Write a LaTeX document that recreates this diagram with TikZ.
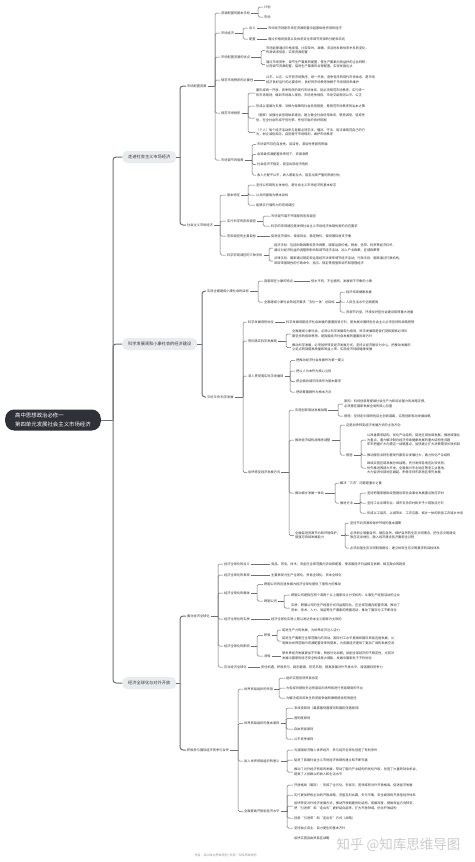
\documentclass[tikz,border=0pt]{standalone}
\usepackage{fontspec}
\setmainfont{Noto Sans CJK SC}
\usepackage{tikz}
\usetikzlibrary{positioning}
\definecolor{rootfill}{HTML}{2E3238}
\definecolor{mainfill}{HTML}{E9ECEF}
\definecolor{linegray}{HTML}{707070}
\definecolor{textgray}{HTML}{333333}
\newcommand\rootsize{\fontsize{5.4}{8.2}\selectfont}
\newcommand\mainsize{\fontsize{4.2}{5}\selectfont}
\newcommand\topicsize{\fontsize{3.2}{4.5}\selectfont}
\tikzset{
    rootbox/.style={rectangle, fill=rootfill, rounded corners=9pt, text=white, font=\rootsize, align=left, minimum height=21pt, inner xsep=10pt, anchor=west},
    mainbox/.style={rectangle, fill=mainfill, rounded corners=5pt, text=textgray, font=\mainsize, minimum height=12pt, inner xsep=6pt, anchor=west},
    topic/.style={anchor=west, font=\topicsize, text=textgray, align=left, inner xsep=1pt, inner ysep=0.6pt},
    trunk/.style={draw=linegray, line width=1pt, rounded corners=3pt},
    link/.style={draw=linegray, line width=0.5pt, rounded corners=1.5pt}
}
% bracket from a parent to its children, #3 = x of the bracket
\newcommand\fanout[4][link]{%
    \path (#3,0) coordinate (fx);
    \draw[#1] (#2.east) -- (#2.east -| fx) coordinate (#2f);
    \foreach \kid in {#4}{\draw[#1] (#2f) |- (\kid.west);}
}
\begin{document}
\begin{tikzpicture}[x=1pt, y=-1pt]
    \fill[white] (0,0) rectangle (474,862);
    \useasboundingbox (0,0) rectangle (474,862);

    \node[rootbox] (root) at (5,420) {高中思想政治必修一\\第四单元发展社会主义市场经济};

    % --- branch 1
    \node[mainbox] (b1) at (122,157) {走进社会主义市场经济};
    \node[topic] (mkt) at (186,86) {市场配置资源};
    \node[topic] (sme) at (186,225) {社会主义市场经济};

    \node[topic] (a1) at (220,13) {资源配置的基本手段};
    \node[topic] (a1x) at (263,7) {计划};
    \node[topic] (a1y) at (263,17) {市场};
    \node[topic] (a2) at (220,33) {市场经济};
    \node[topic] (a2x) at (248,28) {含义};
    \node[topic] (a2y) at (248,39) {配置};
    \node[topic] (a2xl) at (267,28) {市场经济就是市场在资源配置中起基础性作用的经济};
    \node[topic] (a2yl) at (267,39) {通过价格的涨落以及供求变化来调节资源的分配和流向};
    \node[topic] (a3) at (220,57) {市场配置资源的优点};
    \node[topic] (a3x) at (265,50.5) {市场能够通过价格涨落，比较及时、准确、灵活地反映供求关系的变化，\\传递供求信息，实现资源配置};
    \node[topic] (a3y) at (265,64.5) {通过市场竞争，调节生产要素的配置，使生产要素向效益好的企业转移，\\从而调节资源配置，促进生产要素的合理配置，实现优胜劣汰};
    \node[topic] (a4) at (220,80) {规范市场秩序的必要性};
    \node[topic] (a4x) at (265,80) {公平、公正、公开的市场秩序，统一开放、竞争有序的现代市场体系，是市场\\经济良好运行的必要条件，良好的市场秩序依赖于市场规则来维护};
    \node[topic] (a5) at (220,113) {规范市场秩序};
    \node[topic] (a5a) at (255,93) {要形成统一开放、竞争有序的现代市场体系，就必须规范市场秩序，实行统一\\的市场规则，做到市场准入规则、市场竞争规则、市场交易规则公平、公正};
    \node[topic] (a5b) at (255,106) {形成以道德为支撑、法律为保障的社会信用制度，是规范市场秩序的治本之策};
    \node[topic] (a5c) at (255,118) {（国家）加强社会信用体系建设，建立健全社会信用体系，褒扬诚信，惩戒失\\信，在全社会形成守信光荣、失信可耻的良好氛围};
    \node[topic] (a5d) at (255,132.5) {（个人）每个经济活动参与者都必须学法、懂法、守法，用法律规范自己的行\\为，树立诚信观念，自觉遵守市场规则，维护市场秩序};
    \node[topic] (a6) at (220,160) {市场调节的局限};
    \node[topic] (a6a) at (256,144.5) {市场调节存在自发性、盲目性、滞后性等固有弊端};
    \node[topic] (a6b) at (256,154.5) {会导致资源配置效率低下、资源浪费};
    \node[topic] (a6c) at (256,164.5) {社会经济不稳定，甚至出现经济危机};
    \node[topic] (a6d) at (256,175) {收入分配不公平，收入差距拉大，甚至出现严重的两极分化};

    \node[topic] (s1) at (226,195) {基本特征};
    \node[topic] (s1a) at (255,185) {坚持公有制的主体地位，是社会主义市场经济的基本标志};
    \node[topic] (s1b) at (255,195) {以共同富裕为根本目标};
    \node[topic] (s1c) at (255,205) {能够实行强有力的宏观调控};
    \node[topic] (s2) at (226,221) {实行科学的宏观调控};
    \node[topic] (s2a) at (270,216) {市场调节离不开国家的宏观调控};
    \node[topic] (s2b) at (270,226) {科学的宏观调控是发挥社会主义市场经济体制优势的内在要求};
    \node[topic] (s3) at (226,236) {宏观调控的主要目标};
    \node[topic] (s3a) at (270,236) {促进经济增长、增加就业、稳定物价、保持国际收支平衡};
    \node[topic] (s4) at (226,255) {科学宏观调控的三种手段};
    \node[topic] (s4a) at (273,248) {经济手段：包括财政政策和货币政策，国家运用价格、税收、信贷、利率等经济杠杆，\\通过对经济利益的调整来影响和调节经济活动，加入产业政策、区域政策等};
    \node[topic] (s4b) at (273,261) {法律手段：国家通过制定和运用经济法规来调节经济活动；行政手段：国家通过行政机构，\\采取带强制性的行政命令、指示、规定等措施来调节和管理经济};

    \fanout{a1}{258}{a1x,a1y}
    \fanout{a2}{243}{a2x,a2y}
    \draw[link] (a2x.east) -- (a2xl.west);
    \draw[link] (a2y.east) -- (a2yl.west);
    \fanout{a3}{261}{a3x,a3y}
    \draw[link] (a4.east) -- (a4x.west);
    \fanout{a5}{248}{a5a,a5b,a5c,a5d}
    \fanout{a6}{252}{a6a,a6b,a6c,a6d}
    \fanout{mkt}{215}{a1,a2,a3,a4,a5,a6}
    \fanout{s1}{248}{s1a,s1b,s1c}
    \fanout{s2}{263}{s2a,s2b}
    \draw[link] (s3.east) -- (s3a.west);
    \fanout{s4}{269}{s4a,s4b}
    \fanout{sme}{220}{s1,s2,s3,s4}
    \fanout[trunk]{b1}{180}{mkt,sme}

    % --- branch 2
    \node[mainbox] (b2) at (122,344) {科学发展观和小康社会的经济建设};
    \node[topic] (xk) at (206,291) {实现全面建成小康社会的目标};
    \node[topic] (hk) at (206,397) {又好又快\ 科学发展};

    \node[topic] (x1) at (263,281) {我国现在小康的特点};
    \node[topic] (x1l) at (310,281) {低水平的、不全面的、发展很不平衡的小康};
    \node[topic] (x2) at (263,302) {全面建成小康社会的经济要求“五位一体”总目标};
    \node[topic] (x2a) at (345,292) {经济持续健康发展};
    \node[topic] (x2b) at (345,302) {人民生活水平全面提高};
    \node[topic] (x2c) at (345,312) {资源节约型、环境友好型社会建设取得重大进展};

    \node[topic] (h1) at (247,322) {科学发展观的地位};
    \node[topic] (h1l) at (285,322) {科学发展观是经济社会发展的重要指导方针，是发展中国特色社会主义必须坚持的战略思想};
    \node[topic] (h2) at (247,341) {贯彻落实科学发展观};
    \node[topic] (h2a) at (291,334) {全面建成小康社会，必须以科学发展观为指导，科学发展观是我们党和国家必须长\\期坚持的指导思想，是我国经济社会发展的重要指导方针};
    \node[topic] (h2b) at (291,347.5) {推动科学发展，必须加快转变经济发展方式，坚持以经济建设为中心，把推动发展的\\立足点转到提高质量和效益上来，实现经济持续健康发展};
    \node[topic] (h3) at (247,376) {深入贯彻落实科学发展观};
    \node[topic] (h3a) at (295,360.5) {把推动经济社会发展作为第一要义};
    \node[topic] (h3b) at (295,371) {把以人为本作为核心立场};
    \node[topic] (h3c) at (295,381.5) {把全面协调可持续作为基本要求};
    \node[topic] (h3d) at (295,392) {把统筹兼顾作为根本方法};
    \node[topic] (h4) at (247,472.5) {加快转变经济发展方式};

    \node[topic] (h41) at (294,410) {实施创新驱动发展战略};
    \node[topic] (h41a) at (343,404) {原因：科技创新是提高社会生产力和综合国力的战略支撑，\\必须摆在国家发展全局的核心位置};
    \node[topic] (h41b) at (343,416) {措施：坚持走中国特色自主创新道路，实施创新驱动发展战略};
    \node[topic] (h42) at (294,440) {推进经济结构战略性调整};
    \node[topic] (h42a) at (345,425) {这是加快转变经济发展方式的主攻方向};
    \node[topic] (h42b) at (345,455) {措施};
    \node[topic] (h42b1) at (366,440) {以改善需求结构、优化产业结构、促进区域协调发展、推进城镇化\\为重点，着力解决制约经济持续健康发展的重大结构性问题\\牢牢把握扩大内需这一战略基点，加快建立扩大消费需求长效机制};
    \node[topic] (h42b2) at (366,455) {推动服务业特别是现代服务业发展壮大，着力优化产业结构};
    \node[topic] (h42b3) at (366,468) {继续实施区域发展总体战略，充分发挥各地区比较优势，\\优先推进西部大开发，全面振兴东北地区等老工业基地，\\大力促进中部地区崛起，积极支持东部地区率先发展};
    \node[topic] (h43) at (294,493) {推动城乡发展一体化};
    \node[topic] (h43a) at (339,483) {解决“三农”问题是重中之重};
    \node[topic] (h43b) at (339,503) {推进方法};
    \node[topic] (h43b1) at (366,493) {坚持把国家基础设施建设和社会事业发展重点放在农村};
    \node[topic] (h43b2) at (366,503) {坚持工业反哺农业、城市支持农村和多予少取放活方针};
    \node[topic] (h43b3) at (366,513) {形成以工促农、以城带乡、工农互惠、城乡一体的新型工农城乡关系};
    \node[topic] (h44) at (294,535.5) {全面促进资源节约和环境保护，\\增强可持续发展能力};
    \node[topic] (h44a) at (349,523) {坚持节约资源和保护环境的基本国策};
    \node[topic] (h44b) at (349,535.5) {必须树立尊重自然、顺应自然、保护自然的生态文明理念，把生态文明建设\\放在突出地位，融入经济建设各方面和全过程};
    \node[topic] (h44c) at (349,548) {必须加强生态文明制度建设，建立体现生态文明要求的目标体系};

    \draw[link] (x1.east) -- (x1l.west);
    \fanout{x2}{340}{x2a,x2b,x2c}
    \fanout{xk}{258}{x1,x2}
    \draw[link] (h1.east) -- (h1l.west);
    \fanout{h2}{286}{h2a,h2b}
    \fanout{h3}{290}{h3a,h3b,h3c,h3d}
    \fanout{h41}{338}{h41a,h41b}
    \fanout{h42b}{361}{h42b1,h42b2,h42b3}
    \fanout{h42}{340}{h42a,h42b}
    \fanout{h43b}{360}{h43b1,h43b2,h43b3}
    \fanout{h43}{335}{h43a,h43b}
    \fanout{h44}{345}{h44a,h44b,h44c}
    \fanout{h4}{289}{h41,h42,h43,h44}
    \fanout{hk}{243}{h1,h2,h3,h4}
    \fanout[trunk]{b2}{202}{xk,hk}

    % --- branch 3
    \node[mainbox] (b3) at (122,683) {经济全球化与对外开放};
    \node[topic] (fq) at (186,616) {面对经济全球化};
    \node[topic] (jc) at (186,750) {积极参与国际经济竞争与合作};

    \node[topic] (f1) at (223,564) {经济全球化的含义};
    \node[topic] (f1l) at (270,564) {商品、劳务、技术、资金在全球范围内流动和配置，使各国经济日益相互依赖、相互融合的趋势};
    \node[topic] (f2) at (223,575) {经济全球化的表现};
    \node[topic] (f2l) at (270,575) {主要表现为生产全球化、贸易全球化、资本全球化};
    \node[topic] (f3) at (223,593) {经济全球化的载体};
    \node[topic] (f3a) at (263,584.5) {跨国公司的迅速发展为经济全球化提供了强有力的推动};
    \node[topic] (f3b) at (263,601) {跨国公司};
    \node[topic] (f3b1) at (290,595) {跨国公司是指在两个或两个以上国家设立分支机构，从事生产经营活动的企业};
    \node[topic] (f3b2) at (290,608) {实质，跨国公司的生产经营方式日益国际化，在全球范围内配置资源，推动了\\资本、技术、人力、商品等生产要素的跨国流动，推动了国际分工不断深化};
    \node[topic] (f4) at (223,619) {经济全球化的实质};
    \node[topic] (f4l) at (270,619) {经济全球化实质上是以发达资本主义国家为主导的};
    \node[topic] (f5) at (223,646) {经济全球化的影响};
    \node[topic] (f5a) at (263,635.5) {积极};
    \node[topic] (f5a1) at (281,630) {促进生产力的发展，为世界经济注入活力};
    \node[topic] (f5a2) at (281,641) {促进生产要素在全球范围内的流动，国际分工水平提高和国际贸易迅速发展，从\\而推动世界范围内资源配置效率的提高，为各国经济提供了更加广阔的发展空间};
    \node[topic] (f5b) at (263,656) {消极};
    \node[topic] (f5bl) at (281,656) {使世界经济发展更加不平衡，两极分化加剧；加剧全球经济的不稳定性，尤其对\\发展中国家的经济安全构成极大威胁，发展中国家处于不利地位};
    \node[topic] (f6) at (223,667) {应对经济全球化};
    \node[topic] (f6l) at (260,667) {抓住机遇，积极参与，趋利避害，防范风险，提高我国对外开放水平，增强国际竞争力};

    \node[topic] (j1) at (243,689) {世界贸易组织的作用};
    \node[topic] (j1a) at (285,678) {组织实施各项贸易协定};
    \node[topic] (j1b) at (285,688) {为各成员提供多边贸易谈判场所和进行贸易磋商的平台};
    \node[topic] (j1c) at (285,698) {为解决成员间发生的贸易争端和摩擦提供有效途径};
    \node[topic] (j2) at (243,723.5) {世界贸易组织的基本原则};
    \node[topic] (j2a) at (293,708) {非歧视原则（最惠国待遇原则和国民待遇原则）};
    \node[topic] (j2b) at (293,718.5) {透明度原则};
    \node[topic] (j2c) at (293,729) {自由贸易原则};
    \node[topic] (j2d) at (293,739) {公平竞争原则};
    \node[topic] (j3) at (243,761) {加入世界贸易组织的意义};
    \node[topic] (j3a) at (293,750) {为我国经济融入世界经济、参与经济全球化创造了有利条件};
    \node[topic] (j3b) at (293,760) {促进了我国社会主义市场经济体制的建立和不断完善};
    \node[topic] (j3c) at (293,772) {推动了对外经济贸易的发展，带动了国内产业结构的优化升级，创造了大量的就业机会，\\提高了人民群众的收入和生活水平};
    \node[topic] (j4) at (243,811.5) {全面提高开放型经济水平};
    \node[topic] (j4a) at (293,785) {开放格局（国际）：形成了全方位、多层次、宽领域的对外开放格局，促进经济发展};
    \node[topic] (j4b) at (293,795) {实行更加积极主动的开放战略，完善互利共赢、多元平衡、安全高效的开放型经济体系};
    \node[topic] (j4c) at (293,806) {加快转变对外经济发展方式，推动开放朝着优化结构、拓展深度、提高效益方向转变，\\把“引进来”和“走出去”更好结合起来，扩大开放领域，优化开放结构};
    \node[topic] (j4d) at (293,818) {创新“引进来”和“走出去”方式（战略）};
    \node[topic] (j4e) at (293,828) {坚持独立自主、自力更生的基本方针};
    \node[topic] (j4f) at (293,838) {加快实施自由贸易区战略};

    \draw[link] (f1.east) -- (f1l.west);
    \draw[link] (f2.east) -- (f2l.west);
    \fanout{f3b}{284}{f3b1,f3b2}
    \fanout{f3}{257}{f3a,f3b}
    \draw[link] (f4.east) -- (f4l.west);
    \fanout{f5a}{277}{f5a1,f5a2}
    \draw[link] (f5b.east) -- (f5bl.west);
    \fanout{f5}{257}{f5a,f5b}
    \draw[link] (f6.east) -- (f6l.west);
    \fanout{fq}{218}{f1,f2,f3,f4,f5,f6}
    \fanout{j1}{279}{j1a,j1b,j1c}
    \fanout{j2}{286}{j2a,j2b,j2c,j2d}
    \fanout{j3}{287}{j3a,j3b,j3c}
    \fanout{j4}{287}{j4a,j4b,j4c,j4d,j4e,j4f}
    \fanout{jc}{238}{j1,j2,j3,j4}
    \fanout[trunk]{b3}{180}{fq,jc}

    \fanout[trunk]{root}{113}{b1,b2,b3}

    % watermark and footer
    \node[anchor=west, font=\fontsize{13.5}{14}\selectfont, text=gray!40] (mark) at (333,845) {知乎 @知库思维导图};
    \node[anchor=west, font=\fontsize{3}{4}\selectfont, text=gray!80] (foot) at (191,856) {作者：高中政治思维导图 \textbar{} 来源：知库思维导图};
\end{tikzpicture}
\end{document}
